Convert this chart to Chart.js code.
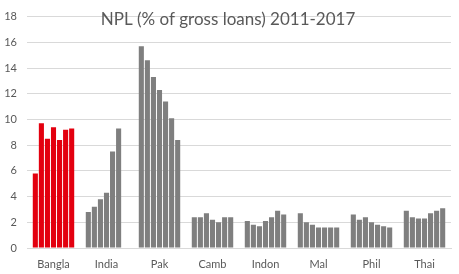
<!DOCTYPE html>
<html>
<head>
<meta charset="utf-8">
<script src="https://cdn.jsdelivr.net/npm/chart.js@4"></script>
<style>
  html, body { margin: 0; padding: 0; background: #fff; }
  #wrap { width: 459px; height: 274px; position: relative; }
</style>
</head>
<body>
<div id="wrap"><canvas id="chart"></canvas></div>
<script>
// countries on the x axis
const countries = ["Bangla", "India", "Pak", "Camb", "Indon", "Mal", "Phil", "Thai"];
const years = ["2011", "2012", "2013", "2014", "2015", "2016", "2017"];

// NPL % per country, one value per year 2011-2017 (null = no data)
const bangla = [5.8, 9.7, 8.5, 9.4, 8.4, 9.2, 9.3];
const india = [2.8, 3.2, 3.8, 4.3, 7.5, 9.3, null];
const pak = [15.7, 14.6, 13.3, 12.3, 11.4, 10.1, 8.4];
const camb = [2.4, 2.4, 2.7, 2.2, 2.0, 2.4, 2.4];
const indon = [2.1, 1.8, 1.7, 2.1, 2.4, 2.9, 2.6];
const mal = [2.7, 2.0, 1.8, 1.6, 1.6, 1.6, 1.6];
const phil = [2.6, 2.2, 2.4, 2.0, 1.8, 1.7, 1.6];
const thai = [2.9, 2.4, 2.3, 2.3, 2.7, 2.9, 3.1];

const yTicks = [0, 2, 4, 6, 8, 10, 12, 14, 16, 18];

const rows = [bangla, india, pak, camb, indon, mal, phil, thai];
const red = "#e3000f";
const gray = "#7f7f7f";

// one dataset per year, so the bars of a country sit side by side
const datasets = years.map((yr, i) => ({
  label: yr,
  data: rows.map((r) => r[i]),
  backgroundColor: countries.map((c) => (c === "Bangla" ? red : gray)),
  borderWidth: 0,
  categoryPercentage: 0.8,
  barPercentage: 0.84,
}));

const titlePlugin = {
  id: "innerTitle",
  afterDraw(chart) {
    const { ctx } = chart;
    ctx.save();
    ctx.font = "17px Lato";
    ctx.fillStyle = "#595959";
    ctx.textAlign = "center";
    ctx.textBaseline = "middle";
    ctx.fillText("NPL (% of gross loans) 2011-2017", 228, 20);
    ctx.restore();
  },
};

const ctx = document.getElementById("chart").getContext("2d");
const chart = new Chart(ctx, {
  type: "bar",
  data: { labels: countries, datasets: datasets },
  options: {
    responsive: true,
    maintainAspectRatio: false,
    animation: false,
    layout: { padding: { top: 10, right: 8, left: 0, bottom: 0 } },
    plugins: { legend: { display: false }, tooltip: { enabled: false } },
    scales: {
      x: {
        grid: { display: false },
        border: { color: "#d9d9d9" },
        ticks: { color: "#595959", font: { family: "Lato", size: 11 }, padding: 2 },
        afterFit: (s) => { s.height = 26; },
      },
      y: {
        min: 0,
        max: 18,
        grid: { color: "#d9d9d9", drawTicks: false },
        border: { display: false },
        ticks: {
          stepSize: 2,
          color: "#595959",
          font: { family: "Lato", size: 11 },
          padding: 10,
          callback: (v) => (yTicks.includes(v) ? v : ""),
        },
        afterFit: (s) => { s.width = 27; },
      },
    },
  },
  plugins: [titlePlugin],
});
</script>
</body>
</html>
